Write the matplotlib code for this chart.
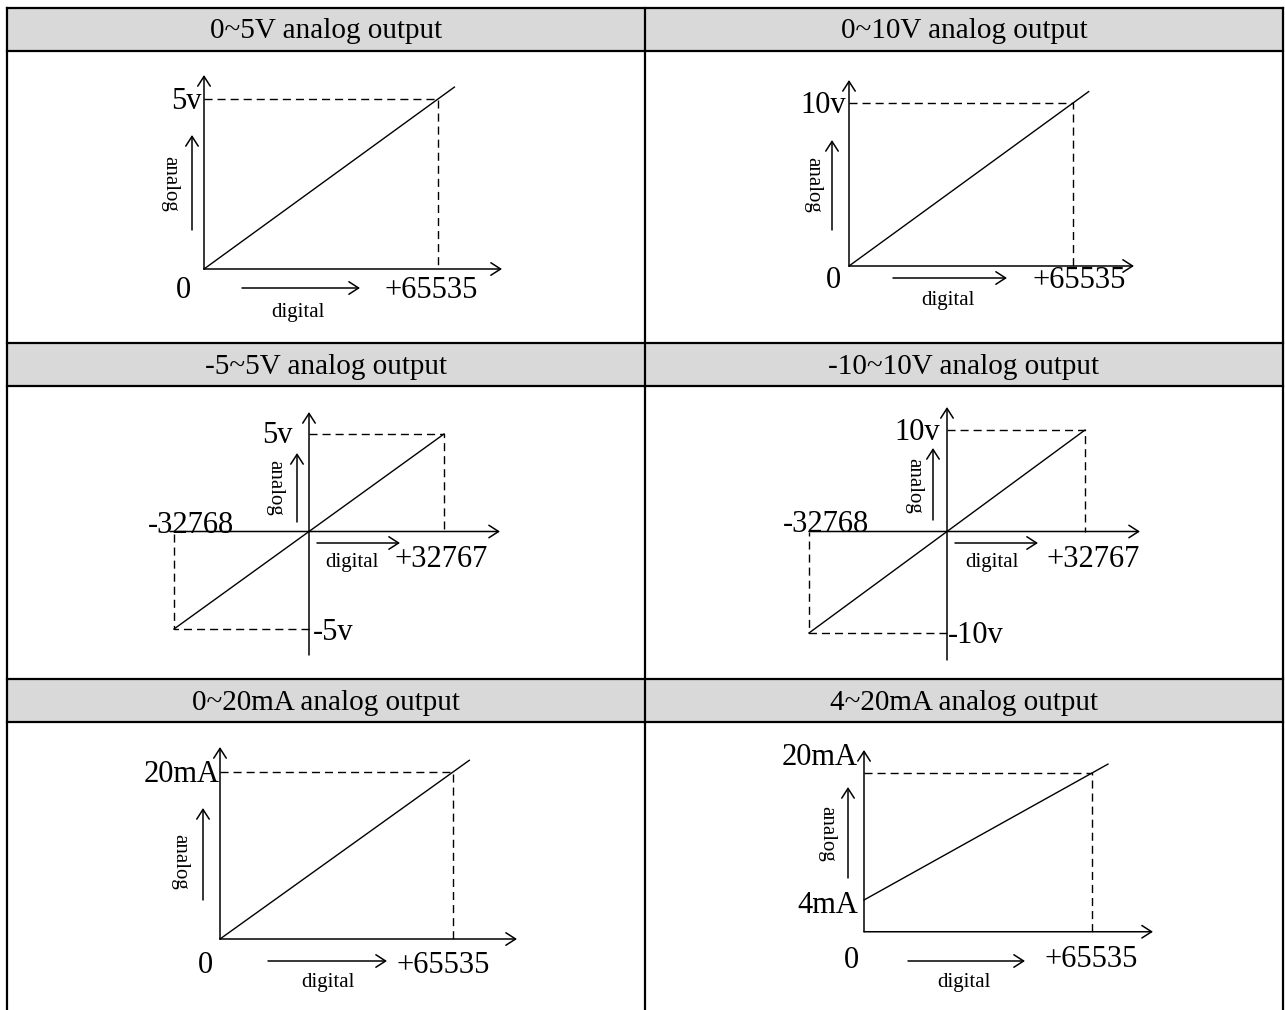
import matplotlib.pyplot as plt
from matplotlib.patches import Rectangle

plt.rcParams['font.family'] = ['Liberation Serif', 'DejaVu Serif']

# ---- chart content ----
titles = ['0~5V analog output', '0~10V analog output',
          '-5~5V analog output', '-10~10V analog output',
          '0~20mA analog output', '4~20mA analog output']
dig_lo = [0, 0, -32768, -32768, 0, 0]
dig_hi = [65535, 65535, 32767, 32767, 65535, 65535]
ana_lo = [0, 0, -5, -10, 0, 4]
ana_hi = [5, 10, 5, 10, 20, 20]
dig_lo_txt = ['0', '0', '-32768', '-32768', '0', '0']
dig_hi_txt = ['+65535', '+65535', '+32767', '+32767', '+65535', '+65535']
ana_hi_txt = ['5v', '10v', '5v', '10v', '20mA', '20mA']
ana_lo_txt = ['', '', '-5v', '-10v', '', '4mA']

# ---- layout (pixels, y down) ----
W, H = 1285, 1010
col_x = [7, 645, 1283]
head_y = [(8, 51), (343, 386), (679, 722)]
# pixel spot of (dig_lo, ana_lo) and of (dig_hi, ana_hi)
p_lo = [(204, 269), (849, 266), (174, 629), (809, 633), (220, 939), (864, 900)]
p_hi = [(438, 99), (1073, 103), (444, 434), (1085, 430), (453, 772), (1092, 773)]
# axis start / tip (None = from origin)
x_ax = [(None, 502), (None, 1134), (170, 500), (809, 1140), (None, 517), (None, 1153)]
y_ax = [(None, 75), (None, 80), (655, 412), (660, 407), (None, 747), (None, 750)]
# label spots
hi_lab = [(202, 99), (846, 103), (293, 433), (940, 430), (220, 772), (858, 755)]
lo_lab = [None, None, (313, 630), (948, 633), None, (858, 903)]
d0_lab = [(183, 288), (833, 278), (148, 523), (783, 522), (205, 963), (851, 958)]
d1_lab = [(384, 288), (1032, 278), (395, 557), (1047, 557), (397, 963), (1045, 957)]
dig_arrow = [(242, 360, 288), (893, 1007, 278), (317, 400, 543), (955, 1038, 543),
             (268, 387, 961), (908, 1025, 961)]
dig_word = [(298, 312), (948, 300), (352, 562), (992, 563), (328, 983), (964, 982)]
ana_arrow = [(192, 230, 135), (832, 230, 140), (297, 522, 453), (933, 520, 448),
             (203, 900, 808), (848, 878, 787)]
ana_word = [(170, 184), (813, 185), (275, 488), (914, 486), (180, 862), (827, 834)]

BIG, HEAD, SMALL = 22, 21, 15
arrow = dict(arrowstyle='->,head_length=0.7,head_width=0.45', lw=1.1, color='k',
             shrinkA=0, shrinkB=0)
dash = dict(color='k', lw=1.0, linestyle=(0, (5.8, 3.6)))

fig = plt.figure(figsize=(W / 100, H / 100), dpi=100)
tab = fig.add_axes([0, 0, 1, 1])
tab.set_xlim(0, W)
tab.set_ylim(H, 0)
tab.set_axis_off()

# table frame
for r, (t, b) in enumerate(head_y):
    tab.add_patch(Rectangle((col_x[0], t), col_x[2] - col_x[0], b - t,
                            fc='#d9d9d9', ec='none'))
    tab.plot([col_x[0], col_x[2]], [t, t], color='k', lw=1.6)
    tab.plot([col_x[0], col_x[2]], [b, b], color='k', lw=1.6)
    for c in range(2):
        tab.text((col_x[c] + col_x[c + 1]) / 2, (t + b) / 2 + 9, titles[2 * r + c],
                 ha='center', va='baseline', fontsize=HEAD)
for x in col_x:
    tab.plot([x, x], [head_y[0][0], H], color='k', lw=1.6)

for i in range(6):
    ax = fig.add_axes([0, 0, 1, 1], zorder=2)
    ax.set_axis_off()
    (x0, y0), (x1, y1) = p_lo[i], p_hi[i]
    sx = (dig_hi[i] - dig_lo[i]) / (x1 - x0)
    sy = (ana_hi[i] - ana_lo[i]) / (y1 - y0)
    px2d = lambda px: dig_lo[i] + (px - x0) * sx
    py2a = lambda py: ana_lo[i] + (py - y0) * sy
    ax.set_xlim(px2d(0), px2d(W))
    ax.set_ylim(py2a(H), py2a(0))

    d0, d1, a0, a1 = dig_lo[i], dig_hi[i], ana_lo[i], ana_hi[i]
    bipolar = d0 < 0

    xs = 0 if x_ax[i][0] is None else px2d(x_ax[i][0])
    ax.annotate('', xy=(px2d(x_ax[i][1]), 0), xytext=(xs, 0),
                arrowprops=arrow, annotation_clip=False)
    ys = 0 if y_ax[i][0] is None else py2a(y_ax[i][0])
    ax.annotate('', xy=(0, py2a(y_ax[i][1])), xytext=(0, ys),
                arrowprops=arrow, annotation_clip=False)

    over = 1.0 if bipolar else 1.07
    ax.plot([d0, d0 + over * (d1 - d0)], [a0, a0 + over * (a1 - a0)], color='k', lw=1.0)
    ax.plot([0, d1, d1], [a1, a1, 0], **dash)
    if bipolar:
        ax.plot([0, d0, d0], [a0, a0, 0], **dash)

    # labels
    tab.text(hi_lab[i][0], hi_lab[i][1] + 10, ana_hi_txt[i], ha='right',
             va='baseline', fontsize=BIG)
    if lo_lab[i] is not None:
        tab.text(lo_lab[i][0], lo_lab[i][1] + 10, ana_lo_txt[i],
                 ha='left' if bipolar else 'right', va='baseline', fontsize=BIG)
    tab.text(d0_lab[i][0], d0_lab[i][1] + 10, dig_lo_txt[i],
             ha='left' if bipolar else 'center', va='baseline', fontsize=BIG)
    tab.text(d1_lab[i][0], d1_lab[i][1] + 10, dig_hi_txt[i], ha='left',
             va='baseline', fontsize=BIG)

    xa, xb, yy = dig_arrow[i]
    tab.annotate('', xy=(xb, yy), xytext=(xa, yy), arrowprops=arrow)
    tab.text(dig_word[i][0], dig_word[i][1], 'digital', ha='center', va='center',
             fontsize=SMALL)
    xx, ya, yb = ana_arrow[i]
    tab.annotate('', xy=(xx, yb), xytext=(xx, ya), arrowprops=arrow)
    tab.text(ana_word[i][0], ana_word[i][1], 'analog', ha='center', va='center',
             rotation=-90, fontsize=SMALL)

fig.savefig('out.png', dpi=100)
